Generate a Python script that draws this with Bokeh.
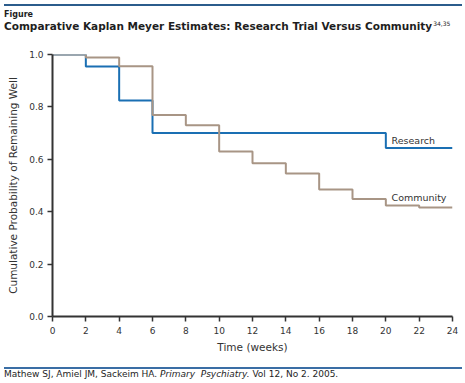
from bokeh.plotting import figure
from bokeh.models import Label, FixedTicker, NumeralTickFormatter, Range1d, Div
from bokeh.layouts import column
from bokeh.embed import file_html
from bokeh.resources import INLINE

# Data
research_weeks = [0, 2, 4, 6, 20, 24]
research_surv = [1.0, 0.954, 0.824, 0.700, 0.643, 0.643]
community_weeks = [0, 2, 4, 6, 8, 10, 12, 14, 16, 18, 20, 22, 24]
community_surv = [1.0, 0.989, 0.955, 0.769, 0.730, 0.630, 0.585, 0.546, 0.485, 0.448, 0.424, 0.416, 0.416]
x_ticks = list(range(0, 25, 2))
y_ticks = [0.0, 0.2, 0.4, 0.6, 0.8, 1.0]

title_text = "Comparative Kaplan Meyer Estimates: Research Trial Versus Community"
title_refs = "34,35"
citation_authors = "Mathew SJ, Amiel JM, Sackeim HA."
citation_journal = "Primary&nbsp; Psychiatry."
citation_issue = "Vol 12, No 2. 2005."

FONT = "DejaVu Sans"
W = 465
HEAD_H, FOOT_H = 36, 20
FIG_H = 383 - HEAD_H - FOOT_H

header = Div(width=W, height=HEAD_H, styles={"margin": "0", "padding": "0", "overflow": "hidden"}, text=f"""
<div style="position:relative;width:{W}px;height:{HEAD_H}px;font-family:'{FONT}';color:#1e1e1e;">
  <div style="position:absolute;left:4px;top:4px;width:458px;height:2px;background:#2b5c8c;"></div>
  <div style="position:absolute;left:4px;top:10px;font-size:8px;font-weight:bold;line-height:9px;white-space:nowrap;">Figure</div>
  <div style="position:absolute;left:4px;top:20px;font-size:10.5px;font-weight:bold;line-height:12px;white-space:nowrap;">{title_text}<span style="position:relative;top:-4px;font-size:6px;font-weight:normal;margin-left:1px;">{title_refs}</span></div>
</div>""")

p = figure(width=W, height=FIG_H, output_backend="svg", toolbar_location=None,
           x_range=Range1d(0, 24), y_range=Range1d(0, 1.0),
           min_border_left=52, min_border_right=13, min_border_top=54 - HEAD_H,
           min_border_bottom=FIG_H - (316 - HEAD_H))
p.outline_line_color = None
p.xgrid.visible = False
p.ygrid.visible = False
p.background_fill_color = "white"
p.border_fill_color = "white"

p.step(research_weeks, research_surv, mode="after", line_color="#1a6fb3", line_width=2)
p.step(community_weeks, community_surv, mode="after", line_color="#a89585", line_width=2)

for ax in (p.xaxis[0], p.yaxis[0]):
    ax.axis_line_color = "#333333"
    ax.axis_line_width = 2
    ax.major_tick_line_color = "#333333"
    ax.major_tick_line_width = 1.5
    ax.major_tick_out = 5
    ax.major_tick_in = 0
    ax.minor_tick_line_color = None
    ax.major_label_text_font = FONT
    ax.major_label_text_font_size = "9px"
    ax.major_label_text_color = "#333333"
    ax.axis_label_text_font = FONT
    ax.axis_label_text_font_style = "normal"
    ax.axis_label_text_font_size = "10.5px"
    ax.axis_label_text_color = "#333333"

p.xaxis.ticker = FixedTicker(ticks=x_ticks)
p.yaxis.ticker = FixedTicker(ticks=y_ticks)
p.yaxis.formatter = NumeralTickFormatter(format="0.0")
p.xaxis.axis_label = "Time (weeks)"
p.yaxis.axis_label = "Cumulative Probability of Remaining Well"
p.xaxis.major_label_standoff = 5
p.yaxis.major_label_standoff = 4
p.xaxis.axis_label_standoff = 4
p.yaxis.axis_label_standoff = 7

p.add_layout(Label(x=20.34, y=0.672, text="Research", text_font=FONT, text_font_size="9.5px",
                   text_color="#333333", text_baseline="middle"))
p.add_layout(Label(x=20.34, y=0.454, text="Community", text_font=FONT, text_font_size="9.5px",
                   text_color="#333333", text_baseline="middle"))

footer = Div(width=W, height=FOOT_H, styles={"margin": "0", "padding": "0", "overflow": "hidden"}, text=f"""
<div style="position:relative;width:{W}px;height:{FOOT_H}px;font-family:'{FONT}';color:#1e1e1e;">
  <div style="position:absolute;left:4px;top:4px;width:458px;height:1.5px;background:#3a6ea5;"></div>
  <div style="position:absolute;left:4px;top:6px;font-size:9px;line-height:11px;white-space:nowrap;">{citation_authors} <i>{citation_journal}</i> {citation_issue}</div>
</div>""")

layout = column(header, p, footer, spacing=0)
open("out.html", "w").write(file_html(layout, INLINE))
